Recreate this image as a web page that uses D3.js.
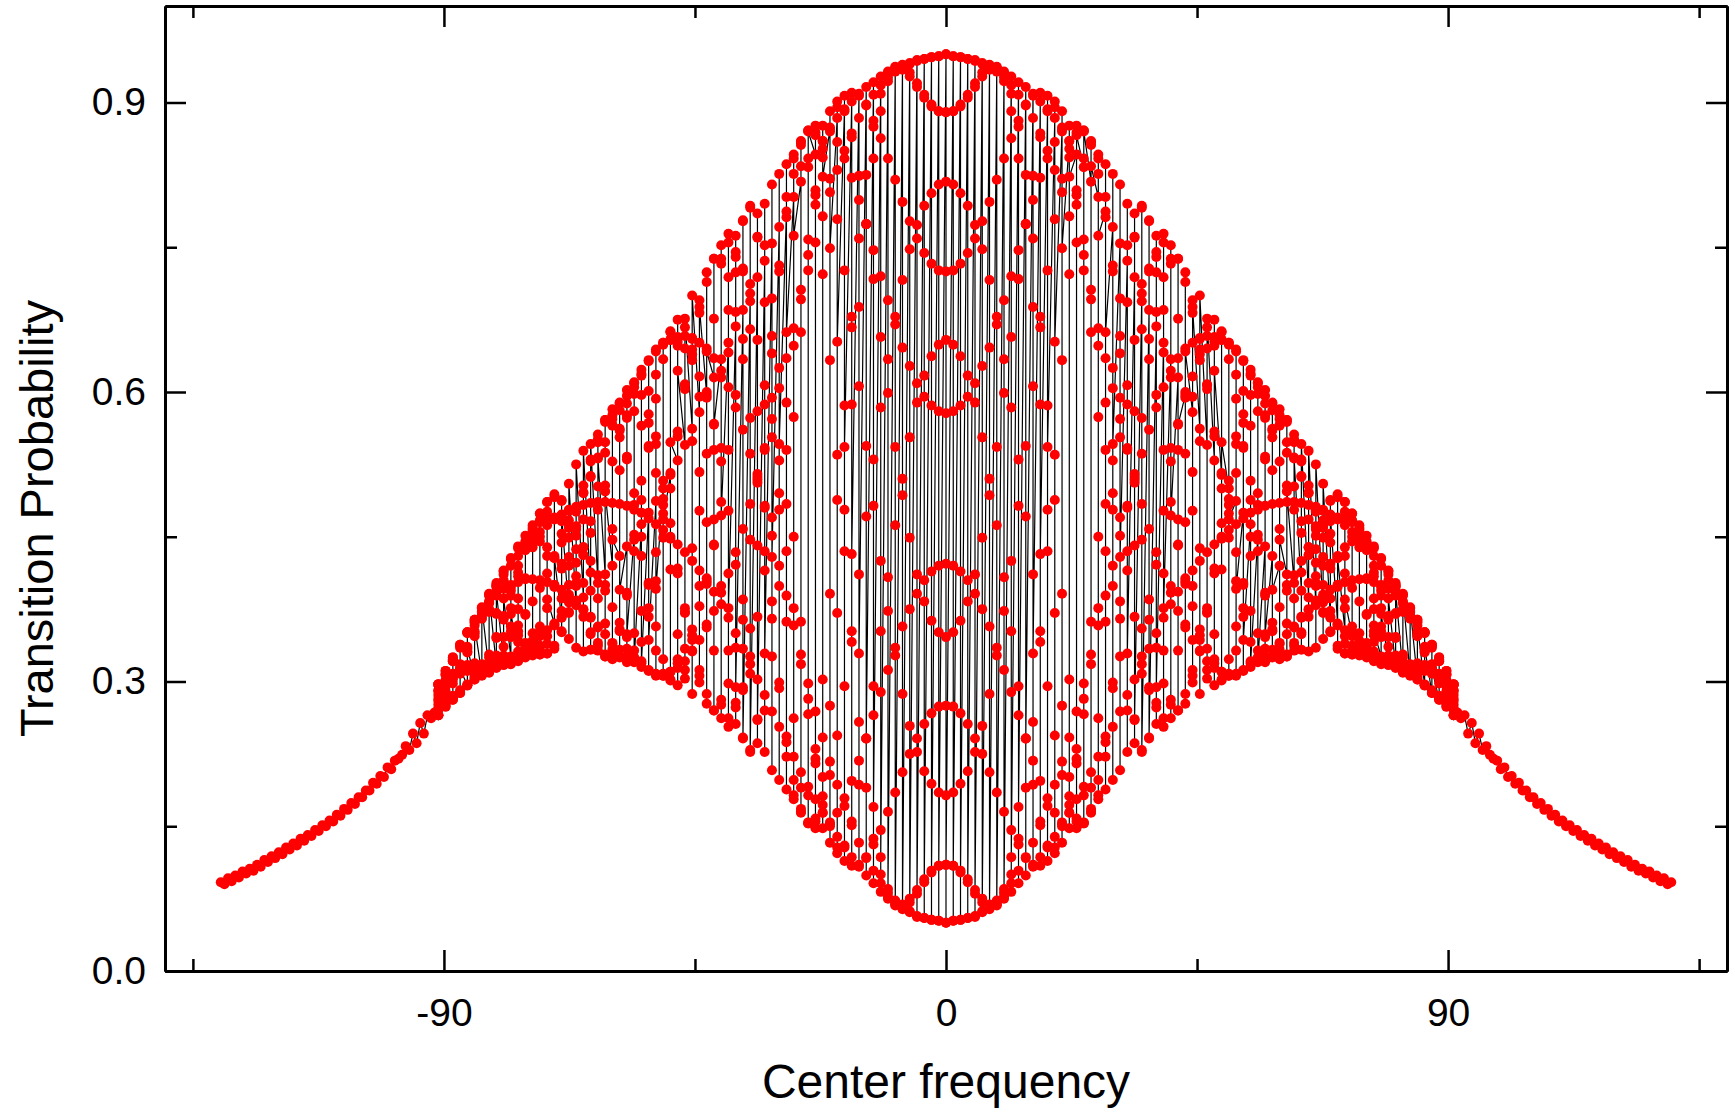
<!DOCTYPE html>
<html lang="en">
<head>
    <meta charset="UTF-8">
    <title>Transition Probability</title>
    <script src="https://d3js.org/d3.v7.min.js"></script>
    <style>
        body { margin: 0; background: #fff; }
        text { font-family: "Liberation Sans", Arial, sans-serif; fill: #000; }
    </style>
</head>
<body>
    <svg width="1735" height="1113"></svg>
    <script>
        // wings: all runs fall on one curve, sampled every 0.65
        const tailStep = 0.65;
        const tailLeftStart = -130, tailRightStart = 91.65;
        const tailLeft = [
            .092,.090,.096,.093,.099,.097,.103,.101,.106,.104,
            .110,.108,.115,.113,.119,.117,.123,.121,.128,.126,
            .132,.130,.137,.135,.141,.140,.146,.145,.151,.150,
            .156,.155,.162,.161,.168,.167,.174,.173,.180,.180,
            .187,.187,.195,.194,.202,.201,.211,.209,.218,.220,
            .224,.233,.229,.246,.236,.257,.246,.265,.262,.268
        ];
        const tailRight = [
            .268,.262,.265,.246,.257,.236,.246,.229,.233,.224,
            .220,.218,.209,.211,.201,.202,.194,.195,.187,.187,
            .180,.180,.173,.174,.167,.168,.161,.162,.155,.156,
            .150,.151,.145,.146,.140,.141,.135,.137,.130,.132,
            .126,.128,.121,.123,.117,.119,.113,.115,.108,.110,
            .104,.106,.101,.103,.097,.099,.093,.096,.090,.092
        ];

        // centre region: sixteen runs measured at each frequency, -91 .. 91 step 1.3
        const innerStart = -91, innerStep = 1.3;
        const run1 = [
            .265,.274,.281,.288,.296,.302,.307,.311,.316,.321,.326,.331,.337,.342,.347,.353,.360,.366,.372,.379,
            .387,.394,.402,.411,.420,.430,.440,.452,.463,.475,.487,.500,.514,.529,.545,.562,.579,.597,.615,.634,
            .651,.668,.685,.702,.719,.736,.754,.771,.787,.802,.818,.833,.846,.860,.872,.884,.893,.901,.909,.916,
            .921,.927,.932,.935,.939,.941,.944,.945,.947,.948,
            .950,.948,.947,.945,.944,.941,.939,.935,.932,.927,.921,.916,.909,.901,.893,.884,.872,.860,.846,.833,
            .818,.802,.787,.771,.754,.736,.719,.702,.685,.668,.651,.634,.615,.597,.579,.562,.545,.529,.514,.500,
            .487,.475,.463,.452,.440,.430,.420,.411,.402,.394,.387,.379,.372,.366,.360,.353,.347,.342,.337,.331,
            .326,.321,.316,.311,.307,.302,.296,.288,.281,.274,.265
        ];
        const run2 = [
            .265,.274,.281,.289,.297,.305,.311,.319,.327,.336,.346,.358,.370,.383,.397,.412,.428,.444,.461,.478,
            .495,.513,.531,.548,.565,.581,.596,.610,.623,.633,.642,.649,.654,.657,.658,.656,.651,.645,.635,.622,
            .605,.584,.561,.536,.509,.480,.451,.420,.389,.358,.328,.298,.269,.242,.217,.193,.171,.151,.133,.117,
            .104,.091,.081,.073,.067,.062,.057,.055,.053,.052,
            .050,.052,.053,.055,.057,.062,.067,.073,.081,.091,.104,.117,.133,.151,.171,.193,.217,.242,.269,.298,
            .328,.358,.389,.420,.451,.480,.509,.536,.561,.584,.605,.622,.635,.645,.651,.656,.658,.657,.654,.649,
            .642,.633,.623,.610,.596,.581,.565,.548,.531,.513,.495,.478,.461,.444,.428,.412,.397,.383,.370,.358,
            .346,.336,.327,.319,.311,.305,.297,.289,.281,.274,.265
        ];
        const run3 = [
            .276,.290,.304,.318,.334,.350,.366,.382,.398,.414,.427,.440,.451,.459,.465,.468,.469,.466,.459,.451,
            .439,.425,.410,.394,.377,.361,.346,.332,.321,.312,.306,.306,.310,.319,.334,.354,.378,.407,.441,.486,
            .540,.597,.655,.712,.760,.795,.815,.826,.836,.842,.859,.871,.876,.876,.870,.859,.842,.822,.799,.774,
            .747,.720,.695,.670,.646,.627,.609,.595,.586,.580,
            .578,.580,.586,.595,.609,.627,.646,.670,.695,.720,.747,.774,.799,.822,.842,.859,.870,.876,.876,.871,
            .859,.842,.836,.826,.815,.795,.760,.712,.655,.597,.540,.486,.441,.407,.378,.354,.334,.319,.310,.306,
            .306,.312,.321,.332,.346,.361,.377,.394,.410,.425,.439,.451,.459,.466,.469,.468,.465,.459,.451,.440,
            .427,.414,.398,.382,.366,.350,.334,.318,.304,.290,.276
        ];
        const run4 = [
            .291,.301,.308,.313,.317,.319,.318,.317,.317,.317,.318,.323,.331,.342,.357,.376,.398,.422,.449,.476,
            .503,.528,.551,.569,.582,.588,.588,.580,.565,.544,.516,.483,.448,.412,.376,.343,.312,.287,.270,.262,
            .262,.273,.294,.326,.367,.415,.470,.529,.589,.648,.706,.758,.804,.843,.874,.895,.907,.910,.907,.897,
            .881,.863,.842,.820,.797,.777,.759,.744,.733,.726,
            .725,.726,.733,.744,.759,.777,.797,.820,.842,.863,.881,.897,.907,.910,.907,.895,.874,.843,.804,.758,
            .706,.648,.589,.529,.470,.415,.367,.326,.294,.273,.262,.262,.270,.287,.312,.343,.376,.412,.448,.483,
            .516,.544,.565,.580,.588,.588,.582,.569,.551,.528,.503,.476,.449,.422,.398,.376,.357,.342,.331,.323,
            .318,.317,.317,.317,.318,.319,.317,.313,.308,.301,.291
        ];
        const run5 = [
            .272,.278,.283,.288,.296,.304,.314,.328,.346,.366,.389,.413,.436,.457,.474,.486,.491,.488,.478,.461,
            .439,.413,.386,.360,.339,.325,.320,.325,.341,.367,.404,.449,.500,.554,.607,.655,.695,.724,.738,.738,
            .719,.683,.634,.573,.506,.435,.365,.299,.243,.198,.168,.153,.155,.172,.203,.244,.295,.352,.411,.471,
            .530,.584,.634,.678,.716,.748,.773,.793,.806,.815,
            .818,.815,.806,.793,.773,.748,.716,.678,.634,.584,.530,.471,.411,.352,.295,.244,.203,.172,.155,.153,
            .168,.198,.243,.299,.365,.435,.506,.573,.634,.683,.719,.738,.738,.724,.695,.655,.607,.554,.500,.449,
            .404,.367,.341,.325,.320,.325,.339,.360,.386,.413,.439,.461,.478,.488,.491,.486,.474,.457,.436,.413,
            .389,.366,.346,.328,.314,.304,.296,.288,.283,.278,.272
        ];
        const run6 = [
            .280,.284,.285,.291,.296,.302,.311,.325,.345,.368,.394,.420,.443,.462,.474,.476,.470,.453,.429,.402,
            .374,.349,.332,.326,.333,.354,.389,.435,.488,.542,.593,.634,.663,.675,.667,.639,.595,.536,.468,.399,
            .332,.278,.241,.227,.236,.270,.326,.399,.484,.574,.662,.742,.809,.860,.891,.901,.891,.864,.824,.774,
            .717,.657,.599,.543,.493,.449,.411,.383,.363,.351,
            .346,.351,.363,.383,.411,.449,.493,.543,.599,.657,.717,.774,.824,.864,.891,.901,.891,.860,.809,.742,
            .662,.574,.484,.399,.326,.270,.236,.227,.241,.278,.332,.399,.468,.536,.595,.639,.667,.675,.663,.634,
            .593,.542,.488,.435,.389,.354,.333,.326,.332,.349,.374,.402,.429,.453,.470,.476,.474,.462,.443,.420,
            .394,.368,.345,.325,.311,.302,.296,.291,.285,.284,.280
        ];
        const run7 = [
            .297,.308,.322,.317,.316,.314,.310,.309,.314,.327,.348,.375,.407,.439,.467,.486,.494,.487,.467,.437,
            .402,.367,.340,.326,.329,.352,.392,.447,.508,.568,.618,.651,.662,.648,.608,.549,.477,.401,.332,.281,
            .253,.256,.291,.355,.441,.540,.640,.731,.802,.846,.860,.842,.794,.722,.633,.535,.435,.341,.258,.190,
            .137,.100,.077,.068,.069,.075,.084,.095,.104,.109,
            .110,.109,.104,.095,.084,.075,.069,.068,.077,.100,.137,.190,.258,.341,.435,.535,.633,.722,.794,.842,
            .860,.846,.802,.731,.640,.540,.441,.355,.291,.256,.253,.281,.332,.401,.477,.549,.608,.648,.662,.651,
            .618,.568,.508,.447,.392,.352,.329,.326,.340,.367,.402,.437,.467,.487,.494,.486,.467,.439,.407,.375,
            .348,.327,.314,.309,.310,.314,.316,.317,.322,.308,.297
        ];
        const run8 = [
            .297,.307,.321,.313,.311,.308,.306,.310,.323,.346,.376,.409,.440,.455,.450,.430,.400,.367,.344,.335,
            .331,.333,.356,.400,.458,.519,.573,.609,.619,.601,.554,.489,.416,.349,.303,.287,.306,.359,.442,.542,
            .641,.724,.777,.791,.761,.693,.594,.478,.362,.262,.190,.154,.158,.201,.275,.371,.478,.587,.688,.774,
            .842,.891,.922,.936,.937,.931,.920,.908,.898,.891,
            .890,.891,.898,.908,.920,.931,.937,.936,.922,.891,.842,.774,.688,.587,.478,.371,.275,.201,.158,.154,
            .190,.262,.362,.478,.594,.693,.761,.791,.777,.724,.641,.542,.442,.359,.306,.287,.303,.349,.416,.489,
            .554,.601,.619,.609,.573,.519,.458,.400,.356,.333,.331,.335,.344,.367,.400,.430,.450,.455,.440,.409,
            .376,.346,.323,.310,.306,.308,.311,.313,.321,.307,.297
        ];
        const run9 = [
            .297,.311,.325,.338,.351,.364,.376,.389,.400,.411,.420,.430,.439,.447,.455,.462,.468,.473,.477,.481,
            .483,.485,.486,.486,.485,.484,.482,.478,.475,.469,.463,.457,.450,.442,.434,.425,.415,.404,.393,.380,
            .366,.350,.334,.318,.302,.286,.269,.253,.237,.222,.206,.191,.178,.164,.152,.139,.128,.118,.108,.099,
            .091,.082,.075,.070,.064,.061,.056,.055,.053,.052,
            .050,.052,.053,.055,.056,.061,.064,.070,.075,.082,.091,.099,.108,.118,.128,.139,.152,.164,.178,.191,
            .206,.222,.237,.253,.269,.286,.302,.318,.334,.350,.366,.380,.393,.404,.415,.425,.434,.442,.450,.457,
            .463,.469,.475,.478,.482,.484,.485,.486,.486,.485,.483,.481,.477,.473,.468,.462,.455,.447,.439,.430,
            .420,.411,.400,.389,.376,.364,.351,.338,.325,.311,.297
        ];
        const run10 = [
            .297,.311,.325,.337,.350,.361,.372,.381,.389,.396,.400,.403,.406,.406,.405,.403,.400,.395,.388,.382,
            .375,.366,.357,.349,.340,.333,.326,.320,.315,.311,.308,.308,.310,.314,.321,.331,.343,.356,.373,.392,
            .412,.434,.458,.484,.512,.542,.572,.604,.635,.666,.696,.726,.755,.782,.807,.830,.850,.868,.884,.898,
            .908,.918,.926,.932,.936,.940,.943,.945,.947,.948,
            .950,.948,.947,.945,.943,.940,.936,.932,.926,.918,.908,.898,.884,.868,.850,.830,.807,.782,.755,.726,
            .696,.666,.635,.604,.572,.542,.512,.484,.458,.434,.412,.392,.373,.356,.343,.331,.321,.314,.310,.308,
            .308,.311,.315,.320,.326,.333,.340,.349,.357,.366,.375,.382,.388,.395,.400,.403,.405,.406,.406,.403,
            .400,.396,.389,.381,.372,.361,.350,.337,.325,.311,.297
        ];
        const run11 = [
            .286,.295,.302,.308,.313,.316,.317,.318,.318,.318,.319,.321,.325,.330,.337,.347,.359,.373,.390,.409,
            .431,.454,.478,.503,.528,.553,.576,.598,.617,.632,.644,.651,.654,.652,.645,.633,.616,.594,.567,.528,
            .477,.421,.364,.308,.261,.227,.208,.198,.188,.182,.165,.153,.148,.148,.154,.164,.179,.197,.218,.241,
            .265,.289,.312,.335,.357,.375,.391,.405,.414,.420,
            .422,.420,.414,.405,.391,.375,.357,.335,.312,.289,.265,.241,.218,.197,.179,.164,.154,.148,.148,.153,
            .165,.182,.188,.198,.208,.227,.261,.308,.364,.421,.477,.528,.567,.594,.616,.633,.645,.652,.654,.651,
            .644,.632,.617,.598,.576,.553,.528,.503,.478,.454,.431,.409,.390,.373,.359,.347,.337,.330,.325,.321,
            .319,.318,.318,.318,.317,.316,.313,.308,.302,.295,.286
        ];
        const run12 = [
            .271,.284,.298,.313,.330,.347,.365,.383,.399,.415,.428,.438,.445,.447,.445,.439,.430,.417,.400,.384,
            .367,.351,.337,.328,.323,.326,.334,.350,.373,.400,.434,.474,.516,.559,.603,.644,.682,.714,.738,.752,
            .755,.745,.725,.694,.654,.607,.553,.495,.435,.376,.318,.266,.220,.181,.150,.128,.114,.109,.110,.118,
            .131,.146,.165,.185,.206,.225,.241,.256,.267,.274,
            .275,.274,.267,.256,.241,.225,.206,.185,.165,.146,.131,.118,.110,.109,.114,.128,.150,.181,.220,.266,
            .318,.376,.435,.495,.553,.607,.654,.694,.725,.745,.755,.752,.738,.714,.682,.644,.603,.559,.516,.474,
            .434,.400,.373,.350,.334,.326,.323,.328,.337,.351,.367,.384,.400,.417,.430,.439,.445,.447,.445,.438,
            .428,.415,.399,.383,.365,.347,.330,.313,.298,.284,.271
        ];
        const run13 = [
            .290,.307,.323,.338,.351,.362,.369,.372,.370,.366,.357,.348,.340,.332,.328,.329,.337,.351,.371,.399,
            .431,.466,.502,.537,.566,.589,.602,.605,.597,.577,.546,.508,.464,.417,.372,.332,.299,.277,.270,.276,
            .298,.335,.385,.447,.515,.587,.658,.725,.781,.826,.856,.871,.869,.852,.821,.779,.726,.667,.606,.544,
            .482,.425,.373,.327,.287,.254,.227,.207,.194,.185,
            .182,.185,.194,.207,.227,.254,.287,.327,.373,.425,.482,.544,.606,.667,.726,.779,.821,.852,.869,.871,
            .856,.826,.781,.725,.658,.587,.515,.447,.385,.335,.298,.276,.270,.277,.299,.332,.372,.417,.464,.508,
            .546,.577,.597,.605,.602,.589,.566,.537,.502,.466,.431,.399,.371,.351,.337,.329,.328,.332,.340,.348,
            .357,.366,.370,.372,.369,.362,.351,.338,.323,.307,.290
        ];
        const run14 = [
            .282,.301,.321,.335,.351,.364,.372,.375,.371,.364,.352,.341,.333,.327,.328,.339,.358,.386,.420,.458,
            .496,.530,.556,.571,.572,.560,.533,.495,.450,.402,.357,.323,.301,.296,.312,.348,.399,.465,.540,.615,
            .685,.740,.778,.793,.785,.752,.697,.625,.540,.450,.362,.282,.215,.164,.133,.122,.130,.155,.193,.241,
            .295,.352,.408,.462,.510,.553,.589,.617,.637,.649,
            .654,.649,.637,.617,.589,.553,.510,.462,.408,.352,.295,.241,.193,.155,.130,.122,.133,.164,.215,.282,
            .362,.450,.540,.625,.697,.752,.785,.793,.778,.740,.685,.615,.540,.465,.399,.348,.312,.296,.301,.323,
            .357,.402,.450,.495,.533,.560,.572,.571,.556,.530,.496,.458,.420,.386,.358,.339,.328,.327,.333,.341,
            .352,.364,.371,.375,.372,.364,.351,.335,.321,.301,.282
        ];
        const run15 = [
            .265,.277,.284,.309,.331,.352,.373,.391,.402,.405,.398,.386,.369,.350,.335,.329,.334,.352,.382,.423,
            .468,.512,.548,.571,.576,.562,.530,.483,.430,.376,.332,.306,.302,.323,.371,.438,.517,.600,.676,.733,
            .764,.762,.728,.665,.580,.482,.383,.293,.222,.178,.164,.182,.230,.302,.391,.488,.586,.678,.759,.825,
            .875,.909,.930,.937,.934,.927,.916,.905,.896,.891,
            .890,.891,.896,.905,.916,.927,.934,.937,.930,.909,.875,.825,.759,.678,.586,.488,.391,.302,.230,.182,
            .164,.178,.222,.293,.383,.482,.580,.665,.728,.762,.764,.733,.676,.600,.517,.438,.371,.323,.302,.306,
            .332,.376,.430,.483,.530,.562,.576,.571,.548,.512,.468,.423,.382,.352,.334,.329,.335,.350,.369,.386,
            .398,.405,.402,.391,.373,.352,.331,.309,.284,.277,.265
        ];
        const run16 = [
            .265,.278,.285,.313,.336,.358,.377,.390,.393,.386,.370,.352,.336,.334,.352,.385,.428,.472,.505,.525,
            .539,.546,.532,.497,.447,.395,.349,.321,.319,.343,.396,.468,.548,.622,.676,.700,.688,.642,.566,.472,
            .376,.294,.242,.229,.260,.329,.429,.546,.662,.762,.834,.870,.866,.823,.749,.652,.543,.432,.329,.241,
            .170,.118,.085,.069,.066,.071,.080,.092,.102,.109,
            .110,.109,.102,.092,.080,.071,.066,.069,.085,.118,.170,.241,.329,.432,.543,.652,.749,.823,.866,.870,
            .834,.762,.662,.546,.429,.329,.260,.229,.242,.294,.376,.472,.566,.642,.688,.700,.676,.622,.548,.468,
            .396,.343,.319,.321,.349,.395,.447,.497,.532,.546,.539,.525,.505,.472,.428,.385,.352,.334,.336,.352,
            .370,.386,.393,.390,.377,.358,.336,.313,.285,.278,.265
        ];
        const runs = [run1, run9, run2, run10, run3, run11, run4, run12,
                      run5, run13, run6, run14, run7, run15, run8, run16];

        // ticks
        const xMajorTicks = [-90, 0, 90];
        const xMinorTicks = [-135, -45, 45, 135];
        const yMajorTicks = [0.0, 0.3, 0.6, 0.9];
        const yMinorTicks = [0.15, 0.45, 0.75];

        const xTitle = "Center frequency";
        const yTitle = "Transition Probability";

        const plotLeft = 165, plotRight = 1727, plotTop = 6, plotBottom = 971;
        const svg = d3.select("svg");

        const x = d3.scaleLinear().domain([-140, 140]).range([plotLeft, plotRight]);
        const y = d3.scaleLinear().domain([0, 1.0]).range([plotBottom, plotTop]);

        // points in acquisition order: left wing, centre (all runs at each frequency), right wing
        const data = [];
        tailLeft.forEach((p, i) => data.push({ f: tailLeftStart + i * tailStep, p: p }));
        for (let j = 0; j < run1.length; j++) {
            runs.forEach(r => data.push({ f: innerStart + j * innerStep, p: r[j] }));
        }
        tailRight.forEach((p, i) => data.push({ f: tailRightStart + i * tailStep, p: p }));

        // connecting line
        svg.append("path")
            .datum(data)
            .attr("fill", "none")
            .attr("stroke", "#000")
            .attr("stroke-width", 1.2)
            .attr("d", d3.line().x(d => x(d.f)).y(d => y(d.p)));

        // points
        svg.append("g").selectAll("circle")
            .data(data)
            .enter()
            .append("circle")
            .attr("cx", d => x(d.f))
            .attr("cy", d => y(d.p))
            .attr("r", 5)
            .attr("fill", "#ff0000");

        // axes, ticks pointing inward
        function styleAxis(g) {
            g.select(".domain").attr("stroke-width", 3);
            g.selectAll(".tick line").attr("stroke-width", 2.5);
            g.selectAll(".tick text").style("font-size", "39px")
                .style("font-family", "'Liberation Sans', Arial, sans-serif");
        }

        svg.append("g").attr("transform", `translate(0,${plotBottom})`)
            .call(d3.axisBottom(x).tickValues(xMajorTicks).tickSize(-21).tickSizeOuter(0).tickPadding(27).tickFormat(d => String(d)))
            .call(styleAxis);
        svg.append("g").attr("transform", `translate(0,${plotBottom})`)
            .call(d3.axisBottom(x).tickValues(xMinorTicks).tickSize(-12).tickSizeOuter(0).tickFormat(""))
            .call(styleAxis);
        svg.append("g").attr("transform", `translate(0,${plotTop})`)
            .call(d3.axisTop(x).tickValues(xMajorTicks).tickSize(-21).tickSizeOuter(0).tickFormat(""))
            .call(styleAxis);
        svg.append("g").attr("transform", `translate(0,${plotTop})`)
            .call(d3.axisTop(x).tickValues(xMinorTicks).tickSize(-12).tickSizeOuter(0).tickFormat(""))
            .call(styleAxis);

        svg.append("g").attr("transform", `translate(${plotLeft},0)`)
            .call(d3.axisLeft(y).tickValues(yMajorTicks).tickSize(-21).tickSizeOuter(0).tickPadding(19).tickFormat(d3.format(".1f")))
            .call(styleAxis);
        svg.append("g").attr("transform", `translate(${plotLeft},0)`)
            .call(d3.axisLeft(y).tickValues(yMinorTicks).tickSize(-12).tickSizeOuter(0).tickFormat(""))
            .call(styleAxis);
        svg.append("g").attr("transform", `translate(${plotRight},0)`)
            .call(d3.axisRight(y).tickValues(yMajorTicks).tickSize(-21).tickSizeOuter(0).tickFormat(""))
            .call(styleAxis);
        svg.append("g").attr("transform", `translate(${plotRight},0)`)
            .call(d3.axisRight(y).tickValues(yMinorTicks).tickSize(-12).tickSizeOuter(0).tickFormat(""))
            .call(styleAxis);

        // axis titles
        svg.append("text")
            .attr("x", (plotLeft + plotRight) / 2)
            .attr("y", 1098)
            .attr("text-anchor", "middle")
            .style("font-size", "48px")
            .text(xTitle);

        svg.append("text")
            .attr("transform", `translate(53,${(plotTop + plotBottom) / 2 + 30}) rotate(-90)`)
            .attr("text-anchor", "middle")
            .style("font-size", "47px")
            .text(yTitle);
    </script>
</body>
</html>
